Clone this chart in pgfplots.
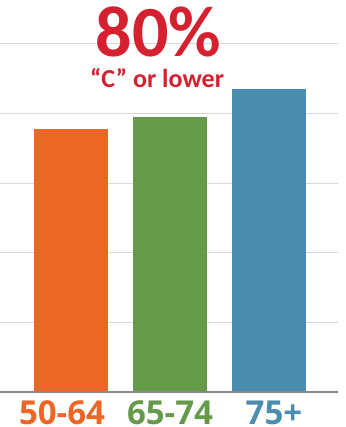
\documentclass[border=0pt]{standalone}
\usepackage{pgfplots}
\pgfplotsset{compat=1.18}
\usepackage{fontspec}
\setmainfont{Carlito}
\newfontfamily\labelfont{Open Sans}

\definecolor{agea}{HTML}{EC6726}
\definecolor{ageb}{HTML}{659A4B}
\definecolor{agec}{HTML}{4A8DAF}
\definecolor{headred}{HTML}{D4202F}
\definecolor{gridgray}{HTML}{D9D9D9}
\definecolor{basegray}{HTML}{888888}

\newcommand{\agelabel}[2]{\textcolor{#1}{\labelfont\bfseries\fontsize{33}{33}\selectfont #2}}

\begin{document}
\begin{tikzpicture}
\useasboundingbox (0pt,-35pt) rectangle (345pt,392pt);
\begin{axis}[
  at={(0pt,0pt)}, anchor=south west,
  scale only axis,
  width=338pt, height=392pt,
  xmin=-0.717, xmax=2.697,
  ymin=0, ymax=112.6,
  axis line style={draw=none},
  major tick style={draw=none},
  ytick={20,40,60,80,100},
  yticklabels={},
  ymajorgrids,
  grid style={gridgray, line width=1.2pt},
  xtick={0,1,2},
  xticklabels={\agelabel{agea}{50-64}\hspace*{18pt},\agelabel{ageb}{65-74},\hspace*{10pt}\agelabel{agec}{75+}},
  xticklabel style={anchor=base, inner sep=0pt, text depth=0pt, yshift=-28pt},
  ybar, bar width=74pt, bar shift=0pt,
  clip=false,
]
\addplot[draw=none, fill=agea] coordinates {(0,75.6)};
\addplot[draw=none, fill=ageb] coordinates {(1,79.0)};
\addplot[draw=none, fill=agec] coordinates {(2,87.1)};
% baseline drawn over the bar feet
\draw[basegray, line width=1.6pt] (rel axis cs:0,0) -- (rel axis cs:1,0);
\node[anchor=base, text=headred, font=\fontsize{72}{72}\selectfont\bfseries, inner sep=0pt, text depth=0pt]
  at (axis cs:0.885,96.3) {80\%};
\node[anchor=base, text=headred, font=\fontsize{26}{26}\selectfont\bfseries, inner sep=0pt, text height=17pt]
  at (axis cs:0.869,87.6) {“C” or lower};
\end{axis}
\end{tikzpicture}
\end{document}
